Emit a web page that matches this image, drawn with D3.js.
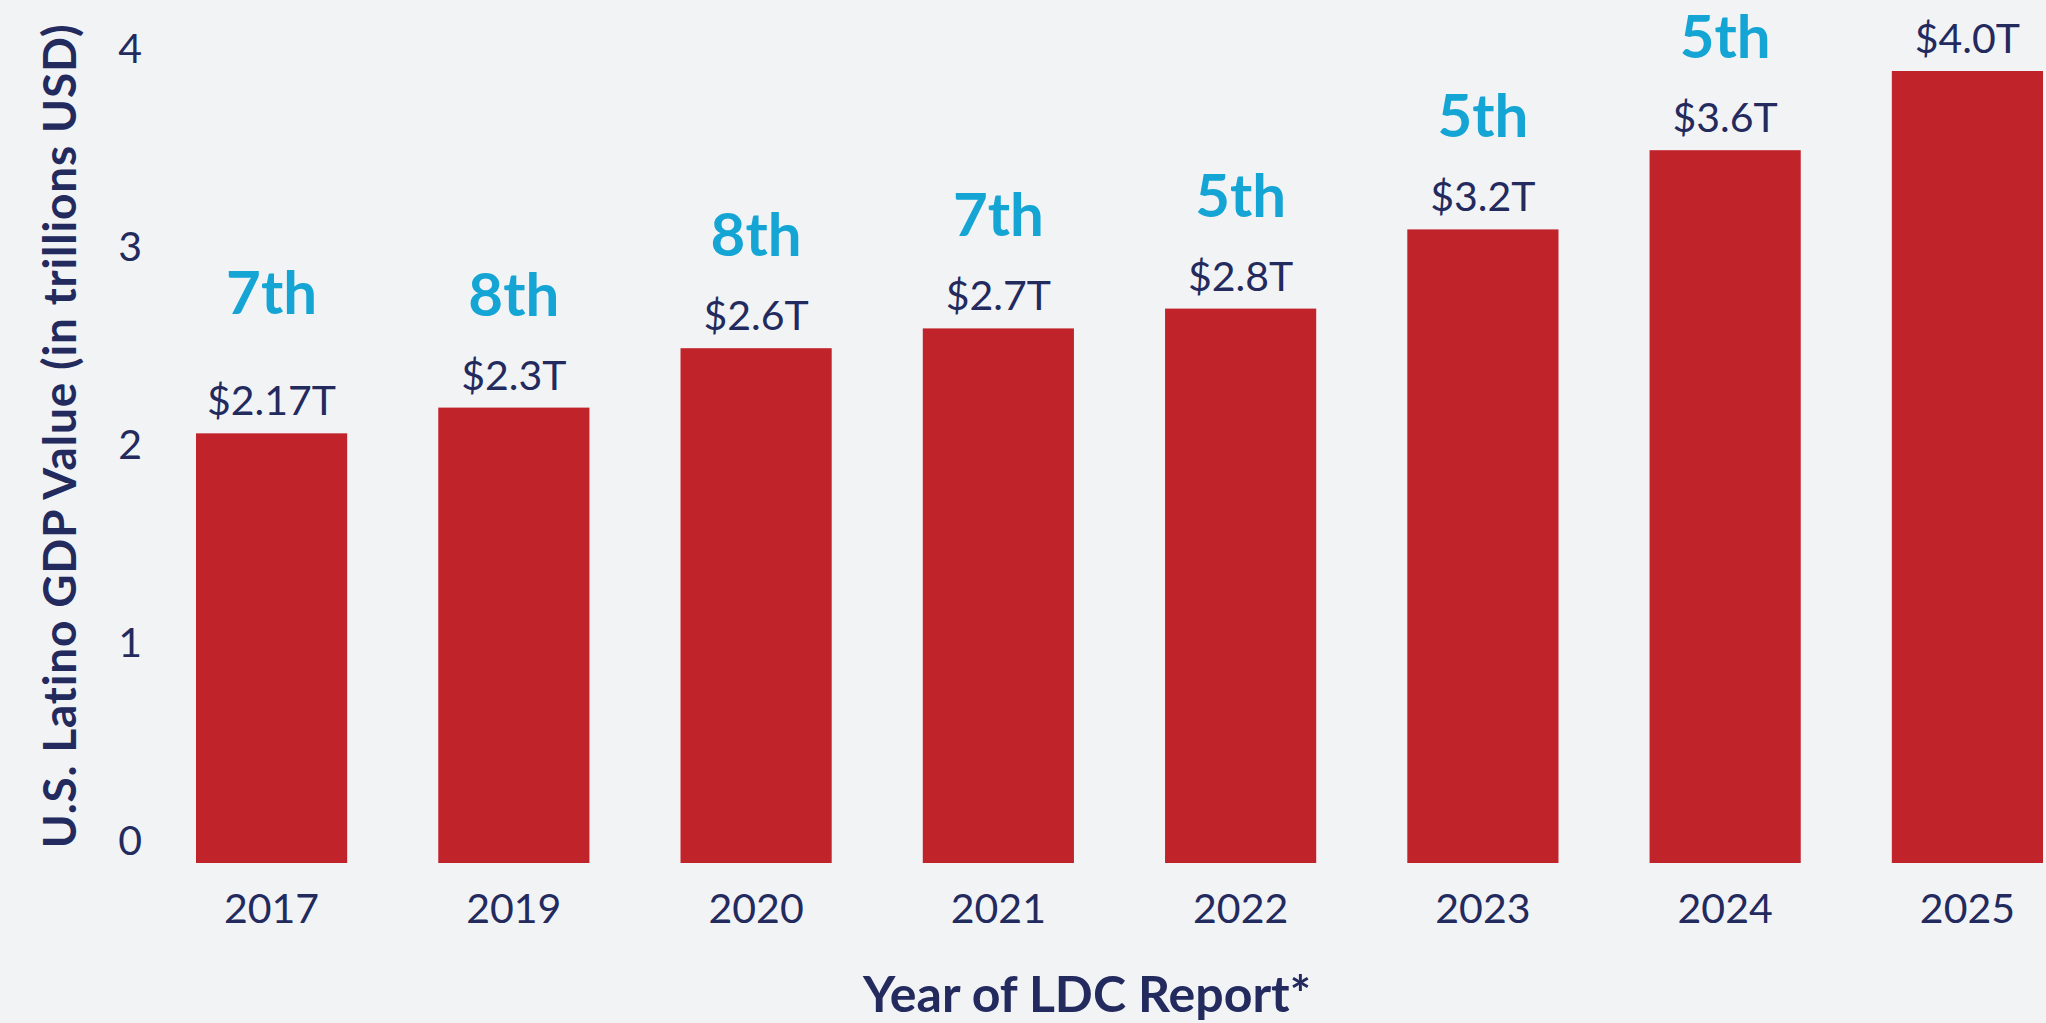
<!DOCTYPE html>
<html>
<head>
<meta charset="utf-8">
<script src="https://d3js.org/d3.v7.min.js"></script>
<style>
  html, body { margin: 0; padding: 0; background: #f2f3f5; }
  svg { display: block; font-family: Lato, "Open Sans", sans-serif; }
</style>
</head>
<body>
<script>
// data
var years  = ["2017", "2019", "2020", "2021", "2022", "2023", "2024", "2025"];
var gdp    = [2.17, 2.3, 2.6, 2.7, 2.8, 3.2, 3.6, 4.0];
var labels = ["$2.17T", "$2.3T", "$2.6T", "$2.7T", "$2.8T", "$3.2T", "$3.6T", "$4.0T"];
var ranks  = ["7th", "8th", "8th", "7th", "5th", "5th", "5th", ""];
var yTicks = [0, 1, 2, 3, 4];

var width = 2046, height = 1023;
var navy = "#232a5e", red = "#c1232a", blue = "#14a5d5";

var svg = d3.select("body").append("svg")
    .attr("width", width)
    .attr("height", height);

svg.append("rect")
    .attr("width", width)
    .attr("height", height)
    .attr("fill", "#f2f3f5");

var x = d3.scaleBand()
    .domain(years)
    .range([196, 2043])
    .paddingInner(0.376)
    .paddingOuter(0);

var y = d3.scaleLinear()
    .domain([0, 4])
    .range([863, 71]);

// bars
svg.selectAll("rect.bar")
    .data(years)
    .enter()
    .append("rect")
    .attr("class", "bar")
    .attr("x", function(d) { return x(d); })
    .attr("y", function(d, i) { return y(gdp[i]); })
    .attr("width", x.bandwidth())
    .attr("height", function(d, i) { return y(0) - y(gdp[i]); })
    .attr("fill", red);

// value labels
svg.selectAll("text.val")
    .data(years)
    .enter()
    .append("text")
    .attr("class", "val")
    .attr("x", function(d) { return x(d) + x.bandwidth() / 2; })
    .attr("y", function(d, i) { return y(gdp[i]) - 18; })
    .attr("text-anchor", "middle")
    .style("font-size", "41px")
    .attr("fill", navy)
    .text(function(d, i) { return labels[i]; });

// rank labels (first one sits a bit higher in the original)
svg.selectAll("text.rank")
    .data(years)
    .enter()
    .append("text")
    .attr("class", "rank")
    .attr("x", function(d) { return x(d) + x.bandwidth() / 2; })
    .attr("y", function(d, i) { return y(gdp[i]) - 92 - (i === 0 ? 27 : 0); })
    .attr("text-anchor", "middle")
    .style("font-size", "60px")
    .style("font-weight", "700")
    .attr("fill", blue)
    .text(function(d, i) { return ranks[i]; });

// y axis
var yAxis = svg.append("g")
    .attr("transform", "translate(142,0)")
    .call(d3.axisLeft(y).tickValues(yTicks).tickFormat(d3.format("d")).tickSize(0).tickPadding(0));
yAxis.select(".domain").remove();
yAxis.selectAll("text")
    .attr("dy", -9)
    .attr("fill", navy)
    .style("font-size", "41px")
    .style("font-family", "Lato, sans-serif");

// x axis
var xAxis = svg.append("g")
    .attr("transform", "translate(0," + y(0) + ")")
    .call(d3.axisBottom(x).tickSize(0));
xAxis.select(".domain").remove();
xAxis.selectAll("text")
    .attr("y", 60)
    .attr("dy", 0)
    .attr("fill", navy)
    .style("font-size", "41px")
    .style("font-family", "Lato, sans-serif");

// axis titles
svg.append("text")
    .attr("x", 1087)
    .attr("y", 1012)
    .attr("text-anchor", "middle")
    .style("font-size", "50px")
    .style("font-weight", "700")
    .attr("fill", navy)
    .text("Year of LDC Report*");

svg.append("text")
    .attr("transform", "translate(76,436) rotate(-90)")
    .attr("text-anchor", "middle")
    .style("font-size", "46px")
    .style("font-weight", "700")
    .style("letter-spacing", "0.8px")
    .attr("fill", navy)
    .text("U.S. Latino GDP Value (in trillions USD)");
</script>
</body>
</html>
